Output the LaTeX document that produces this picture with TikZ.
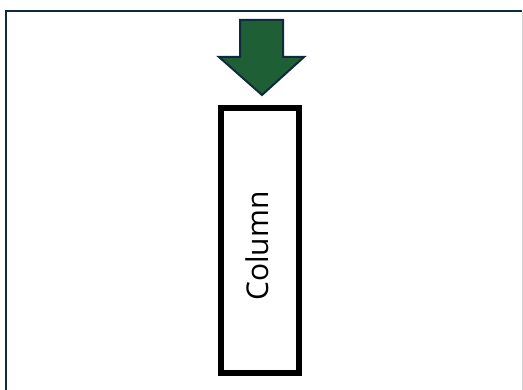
\documentclass[tikz,border=0pt]{standalone}
\usepackage{fontspec}
\setmainfont{Open Sans}
\definecolor{frame}{HTML}{0D2B3D}
\definecolor{arrfill}{HTML}{1F5F35}
\definecolor{edgegray}{HTML}{D0D0D0}
\tikzset{
  framestyle/.style={draw=frame, line width=2.6pt},
  arrowshape/.style={fill=arrfill, draw=frame, line width=2pt, line join=miter},
  colbox/.style={draw=black, line width=6pt, fill=white, minimum width=78pt, minimum height=265pt, inner sep=0pt},
}
\begin{document}
\begin{tikzpicture}[x=1pt,y=-1pt]
\useasboundingbox (0,0) rectangle (523,390);
\fill[white] (0,0) rectangle (523,390);
\coordinate (tl) at (6,11);
\coordinate (tr) at (522,11);
\coordinate (bl) at (6,390);
\coordinate (br) at (522,390);
\draw[edgegray, line width=1pt] (522,12) -- (br);
\draw[framestyle] (bl) -- (tl) -- (tr);
\draw[arrowshape] (240,20) -- (283,20) -- (283,57) -- (304,57) -- (262,95) -- (219,57) -- (240,57) -- cycle;
\node[colbox] (col) at (260,240.5) {};
\node[rotate=90, font=\fontsize{30}{34}\selectfont] (lbl) at (257,246) {Column};
\end{tikzpicture}
\end{document}
